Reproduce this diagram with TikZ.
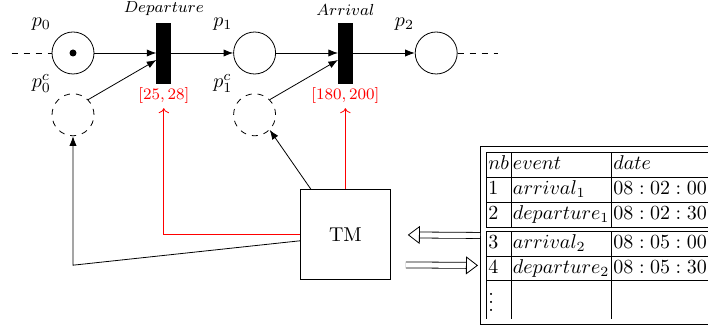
\documentclass[tikz,border=0pt]{standalone}
\usepackage{amsmath,amssymb}
\usepackage{xcolor}
\usepackage{tikz}
\usetikzlibrary{arrows.meta,positioning,calc}

\begin{document}
\begin{tikzpicture}[node distance=31pt]
\tikzset{place/.style={draw,circle,minimum size=21pt,inner sep=0pt},
  cplace/.style={place,dashed},
  trans/.style={draw,fill=black,minimum width=7pt,minimum height=30pt,inner sep=0pt},
  intv/.style={red,font=\footnotesize,inner sep=2pt},
  dbl/.style={double,double distance=2.6pt,-{Triangle[open,length=6pt,width=9pt,line width=0.4pt]}}}
\clip (0,0) rectangle (354pt,-162.5pt);
% the net
\node[place,label={135:$p_0$}] (p0) at (36.5pt,-26.5pt) {};
\fill (p0) circle (1.75pt);
\node[trans,right=of p0,label={above:\footnotesize$Departure$}] (dep) {};
\node[place,right=of dep,label={135:$p_1$}] (p1) {};
\node[trans,right=of p1,label={above:\footnotesize$Arrival$}] (arr) {};
\node[place,right=of arr,label={135:$p_2$}] (p2) {};
\node[cplace,below=9.5pt of p0,label={135:$p_0^c$}] (p0c) {};
\node[cplace,below=9.5pt of p1,label={135:$p_1^c$}] (p1c) {};
\node[intv,below=0pt of dep] (dint) {$[25,28]$};
\node[intv,below=0pt of arr] (aint) {$[180,200]$};
\coordinate[left=20pt of p0.west] (pin);
\coordinate[right=20pt of p2.east] (pout);
% the monitor and its log
\node[draw,minimum size=45pt,below=53pt of arr] (tm) {TM};
\node[draw,inner sep=3pt,anchor=north west] (tab) at (240pt,-73pt) {\setlength{\tabcolsep}{1pt}%
  \begin{tabular}{|l|l|l|}
  \hline
  $nb$ & $event$ & $date$ \\ \hline
  1 & $arrival_1$ & $08:02:00$ \\ \hline
  2 & $departure_1$ & $08:02:30$ \\ \hline\hline
  3 & $arrival_2$ & $08:05:00$ \\ \hline
  4 & $departure_2$ & $08:05:30$ \\ \hline
  $\vdots$ & & \\
  \end{tabular}};
\coordinate[below=64.5pt of p0c] (turn);
\draw[dashed] (pin) -- (p0);
\draw[-{Latex}] (p0) -- (dep);
\draw[-{Latex}] (dep) -- (p1);
\draw[-{Latex}] (p1) -- (arr);
\draw[-{Latex}] (arr) -- (p2);
\draw[dashed] (p2) -- (pout);
\draw[-{Latex}] (p0c.north east) -- ([yshift=-3.5pt]dep.west);
\draw[-{Latex}] (p1c.north east) -- ([yshift=-3.5pt]arr.west);
\draw[red,-{To}] (tm.north) -- (aint);
\draw[red,-{To}] (tm.west) -| (dint);
\draw[-{Latex}] ([xshift=5.5pt]tm.north west) -- (p1c.south east);
\draw[-{Latex}] ([yshift=-3pt]tm.west) -- (turn) -- (p0c);
\draw[dbl,shorten >=8.5pt] (tab.west) -- (tm.east);
\draw[dbl,shorten <=7.5pt,shorten >=1pt] ([yshift=-15pt]tm.east) -- ([yshift=-15pt]tab.west);
\end{tikzpicture}
\end{document}
